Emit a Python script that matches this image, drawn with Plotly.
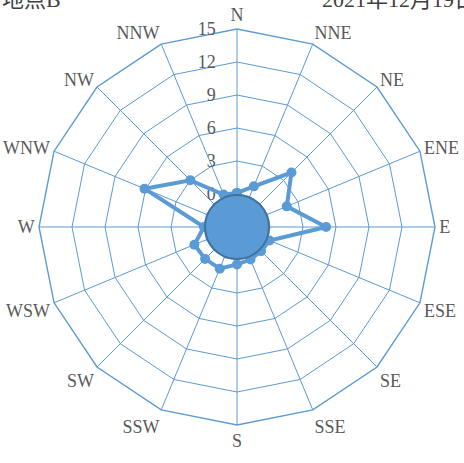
import plotly.graph_objects as go

directions = ["N", "NNE", "NE", "ENE", "E", "ESE", "SE", "SSE",
              "S", "SSW", "SW", "WSW", "W", "WNW", "NW", "NNW"]
frequency = [0.1, 1.0, 4.0, 1.9, 5.1, 0.2, 0.1, 0.2,
             0.4, 1.1, 1.1, 1.2, 0.0, 6.1, 3.0, 0.2]
radial_ticks = [-3, 0, 3, 6, 9, 12, 15]
calm_value = -3
place_title = "地点B"
date_title = "2021年12月19日"

# Plotly polar does not draw negative radii, so the radial scale is offset
# so that its minimum (-3) sits at the centre; tick labels keep real values.
axis_min = radial_ticks[0]
axis_max = radial_ticks[-1]


def to_r(values):
    return [v - axis_min for v in values]


BLUE = "#5B9BD5"
GRAY = "#595959"
LABEL_FONT = "Liberation Serif, 'DejaVu Serif', 'Noto Sans CJK JP', serif"
DOMAIN = dict(x=[39/464, 435/464], y=[1 - 425/463, 1 - 29/463])
r_range = to_r([axis_min, axis_max])

fig = go.Figure()
fig.add_trace(go.Scatterpolar(
    r=to_r(frequency + frequency[:1]),
    theta=directions + directions[:1],
    mode="lines+markers",
    line=dict(color=BLUE, width=4),
    marker=dict(color=BLUE, size=10),
    showlegend=False,
    hoverinfo="skip",
    subplot="polar",
))
# calm disc at the centre, on an overlaid polar subplot with a circular shape
fig.add_trace(go.Scatterpolar(
    r=to_r([calm_value]),
    theta=[0],
    mode="markers",
    marker=dict(color=BLUE, size=64, line=dict(color="#41719C", width=2)),
    showlegend=False,
    hoverinfo="skip",
    subplot="polar2",
))

fig.update_layout(
    width=464, height=463,
    margin=dict(l=0, r=0, t=0, b=0),
    paper_bgcolor="white",
    plot_bgcolor="white",
    polar=dict(
        domain=DOMAIN,
        bgcolor="white",
        gridshape="linear",
        radialaxis=dict(
            range=r_range,
            tickvals=to_r(radial_ticks),
            ticktext=[str(v) + "\u2003" for v in radial_ticks],
            angle=90,
            side="counterclockwise",
            tickangle=90,
            showline=False,
            ticks="",
            gridcolor=BLUE,
            gridwidth=1.4,
            layer="below traces",
            tickfont=dict(family=LABEL_FONT, size=18, color=GRAY),
        ),
        angularaxis=dict(
            categoryorder="array",
            categoryarray=directions,
            direction="clockwise",
            rotation=90,
            showline=True,
            linecolor=BLUE,
            linewidth=1.4,
            gridcolor=BLUE,
            gridwidth=1.4,
            ticks="",
            layer="below traces",
            tickfont=dict(family=LABEL_FONT, size=18, color=GRAY),
        ),
    ),
    polar2=dict(
        domain=DOMAIN,
        bgcolor="rgba(0,0,0,0)",
        gridshape="circular",
        radialaxis=dict(range=r_range, visible=False),
        angularaxis=dict(visible=False, direction="clockwise", rotation=90),
    ),
    annotations=[
        dict(text=place_title, x=0, y=1 + 1/463, xref="paper", yref="paper",
             xanchor="left", yanchor="middle", showarrow=False,
             font=dict(family=LABEL_FONT, size=22, color="#404040")),
        dict(text=date_title, x=320/464, y=1 + 1/463, xref="paper", yref="paper",
             xanchor="left", yanchor="middle", showarrow=False,
             font=dict(family=LABEL_FONT, size=22, color="#404040")),
    ],
)

fig.write_html("out.html", config={"displayModeBar": False},
               post_script="document.body.style.margin='0';")
